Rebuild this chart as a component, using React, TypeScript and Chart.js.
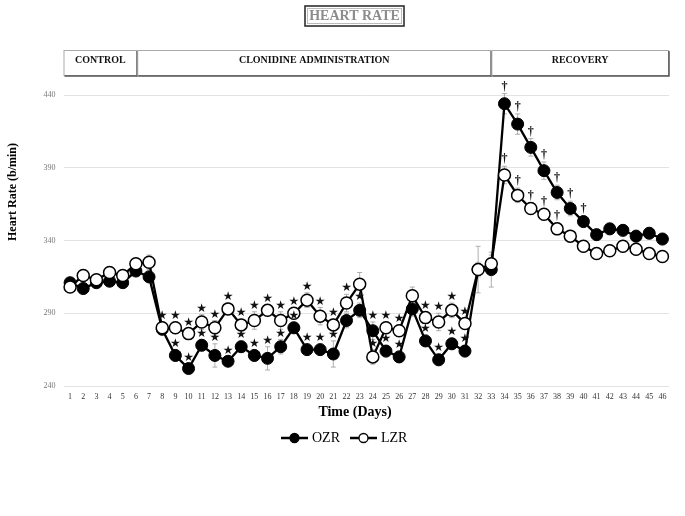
import { useEffect, useRef } from "react";
import { Chart, registerables } from "chart.js";

Chart.register(...registerables);

// Days of the study
const days = [
  "1", "2", "3", "4", "5", "6", "7", "8", "9", "10",
  "11", "12", "13", "14", "15", "16", "17", "18", "19", "20",
  "21", "22", "23", "24", "25", "26", "27", "28", "29", "30",
  "31", "32", "33", "34", "35", "36", "37", "38", "39", "40",
  "41", "42", "43", "44", "45", "46",
];

// Heart rate (b/min), mean and SEM
const ozr = [
  311, 307, 311, 312, 311, 319, 315, 279, 261, 252,
  268, 261, 257, 267, 261, 259, 267, 280, 265, 265,
  262, 285, 292, 278, 264, 260, 293, 271, 258, 269,
  264, 320, 320, 434, 420, 404, 388, 373, 362, 353,
  344, 348, 347, 343, 345, 341,
];
const ozrErr = [
  3, 4, 3, 3, 3, 3, 4, 4, 4, 3,
  4, 8, 3, 4, 4, 8, 5, 4, 4, 4,
  9, 5, 5, 6, 4, 4, 5, 4, 4, 4,
  4, 5, 12, 7, 7, 6, 6, 5, 5, 4,
  4, 4, 4, 4, 4, 4,
];
const lzr = [
  308, 316, 313, 318, 316, 324, 325, 280, 280, 276,
  284, 280, 293, 282, 285, 292, 285, 290, 299, 288,
  282, 297, 310, 260, 280, 278, 302, 287, 284, 292,
  283, 320, 324, 385, 371, 362, 358, 348, 343, 336,
  331, 333, 336, 334, 331, 329,
];
const lzrErr = [
  3, 4, 3, 4, 3, 3, 5, 4, 4, 3,
  5, 5, 4, 4, 6, 4, 6, 4, 5, 6,
  4, 6, 8, 5, 4, 4, 6, 4, 6, 5,
  4, 16, 6, 6, 5, 4, 4, 4, 4, 4,
  4, 4, 4, 4, 4, 4,
];

// significance marks
const ozrStarDays = [9, 10, 11, 12, 13, 14, 15, 16, 17, 18, 19, 20, 21, 23, 24, 25, 26, 28, 29, 30, 31];
const lzrStarDays = [8, 9, 10, 11, 12, 13, 14, 15, 16, 17, 18, 19, 20, 21, 22, 24, 25, 26, 28, 29, 30, 31];
const ozrDaggerDays = [34, 35, 36, 37, 38, 39, 40];
const lzrDaggerDays = [34, 35, 36, 37, 38];

const yTicks = [240, 290, 340, 390, 440];

// phases of the protocol, bounds given in days
const phases = ["CONTROL", "CLONIDINE ADMINISTRATION", "RECOVERY"];
const phaseBounds = [0.5, 6.1, 33, 46.5];

const SERIF = "'Liberation Serif', 'Times New Roman', serif";

const decorations = {
  id: "decorations",
  beforeDatasetsDraw(chart: any) {
    const { ctx } = chart;
    const y = chart.scales.y;
    const sets = [
      { vals: ozr, errs: ozrErr },
      { vals: lzr, errs: lzrErr },
    ];
    ctx.save();
    ctx.strokeStyle = "#9a9a9a";
    ctx.lineWidth = 0.8;
    sets.forEach((s, i) => {
      const meta = chart.getDatasetMeta(i);
      meta.data.forEach((pt: any, j: number) => {
        const top = y.getPixelForValue(s.vals[j] + s.errs[j]);
        const bot = y.getPixelForValue(s.vals[j] - s.errs[j]);
        ctx.beginPath();
        ctx.moveTo(pt.x, top);
        ctx.lineTo(pt.x, bot);
        ctx.moveTo(pt.x - 2.5, top);
        ctx.lineTo(pt.x + 2.5, top);
        ctx.moveTo(pt.x - 2.5, bot);
        ctx.lineTo(pt.x + 2.5, bot);
        ctx.stroke();
      });
    });
    ctx.restore();
  },
  afterDatasetsDraw(chart: any) {
    const { ctx } = chart;
    const x = chart.scales.x;
    const y = chart.scales.y;
    const mark = (list: number[], vals: number[], errs: number[], glyph: string, font: string, gap: number) => {
      ctx.font = font;
      list.forEach((d) => {
        const v = vals[d - 1];
        const px = x.getPixelForValue(d - 1);
        const py = Math.min(y.getPixelForValue(v) - gap - 4, y.getPixelForValue(v + errs[d - 1]) - gap);
        ctx.fillText(glyph, px, py);
      });
    };
    ctx.save();
    ctx.fillStyle = "#111";
    ctx.textAlign = "center";
    ctx.textBaseline = "middle";
    mark(ozrStarDays, ozr, ozrErr, "★", "12px 'DejaVu Sans'", 6);
    mark(lzrStarDays, lzr, lzrErr, "★", "12px 'DejaVu Sans'", 6);
    mark(ozrDaggerDays, ozr, ozrErr, "†", `bold 12px ${SERIF}`, 7);
    mark(lzrDaggerDays, lzr, lzrErr, "†", `bold 12px ${SERIF}`, 7);
    ctx.restore();
  },
  afterDraw(chart: any) {
    const { ctx } = chart;
    const x = chart.scales.x;
    ctx.save();

    // main title
    ctx.strokeStyle = "#222";
    ctx.lineWidth = 1.5;
    ctx.strokeRect(305, 6, 99, 20);
    ctx.strokeStyle = "#bbb";
    ctx.lineWidth = 1;
    ctx.strokeRect(307.5, 8.5, 94, 15);
    ctx.fillStyle = "#8c8c8c";
    ctx.font = `bold 14px ${SERIF}`;
    ctx.textAlign = "center";
    ctx.textBaseline = "middle";
    ctx.fillText("HEART RATE", 354.5, 16.5);

    // phase header boxes
    const top = 50;
    const h = 25;
    phases.forEach((label, i) => {
      const l = x.getPixelForValue(phaseBounds[i] - 1);
      const r = x.getPixelForValue(phaseBounds[i + 1] - 1);
      ctx.strokeStyle = "#aaa";
      ctx.lineWidth = 1;
      ctx.strokeRect(l + 0.5, top + 0.5, r - l - 1, h);
      ctx.strokeStyle = "#555";
      ctx.lineWidth = 1.5;
      ctx.beginPath();
      ctx.moveTo(l + 1, top + h + 1);
      ctx.lineTo(r, top + h + 1);
      ctx.lineTo(r, top + 1);
      ctx.stroke();
      ctx.fillStyle = "#111";
      ctx.font = `bold 10px ${SERIF}`;
      ctx.fillText(label, (l + r) / 2, top + 10.5);
    });

    // axis titles
    ctx.fillStyle = "#000";
    ctx.font = `bold 14px ${SERIF}`;
    ctx.fillText("Time (Days)", 355, 412);
    ctx.save();
    ctx.translate(13, 192);
    ctx.rotate(-Math.PI / 2);
    ctx.font = `bold 12px ${SERIF}`;
    ctx.fillText("Heart Rate (b/min)", 0, 0);
    ctx.restore();

    // legend
    const item = (x0: number, label: string, fill: string) => {
      const ly = 438;
      ctx.strokeStyle = "#000";
      ctx.lineWidth = 2.5;
      ctx.beginPath();
      ctx.moveTo(x0, ly);
      ctx.lineTo(x0 + 27, ly);
      ctx.stroke();
      ctx.beginPath();
      ctx.arc(x0 + 13.5, ly, 4.5, 0, Math.PI * 2);
      ctx.fillStyle = fill;
      ctx.fill();
      ctx.lineWidth = 1.3;
      ctx.stroke();
      ctx.fillStyle = "#000";
      ctx.font = `14px ${SERIF}`;
      ctx.textAlign = "left";
      ctx.fillText(label, x0 + 31, ly + 0.5);
    };
    item(281, "OZR", "#000");
    item(350, "LZR", "#fff");

    ctx.restore();
  },
};

export default function App() {
  const chartRef = useRef<HTMLCanvasElement>(null);
  const chartInstance = useRef<Chart | null>(null);

  useEffect(() => {
    document.body.style.margin = "0";
    if (!chartRef.current) return;
    if (chartInstance.current) chartInstance.current.destroy();

    const ctx = chartRef.current.getContext("2d");
    if (!ctx) return;

    chartInstance.current = new Chart(ctx, {
      type: "line",
      data: {
        labels: days,
        datasets: [
          {
            label: "OZR",
            data: ozr,
            borderColor: "#000",
            borderWidth: 2.3,
            pointRadius: 6,
            pointBackgroundColor: "#000",
            pointBorderColor: "#000",
            pointBorderWidth: 1,
            tension: 0,
            clip: false,
            order: 1,
          },
          {
            label: "LZR",
            data: lzr,
            borderColor: "#000",
            borderWidth: 2.3,
            pointRadius: 6,
            pointBackgroundColor: "#fff",
            pointBorderColor: "#000",
            pointBorderWidth: 1.5,
            tension: 0,
            clip: false,
            order: 0,
          },
        ],
      },
      options: {
        responsive: true,
        maintainAspectRatio: false,
        animation: false,
        events: [],
        layout: {
          padding: { top: 95, right: 16, bottom: 90, left: 0 },
        },
        scales: {
          x: {
            type: "category",
            offset: true,
            grid: { display: false, drawTicks: false },
            border: { display: false },
            ticks: {
              autoSkip: false,
              maxRotation: 0,
              padding: 6,
              color: "#333",
              font: { family: SERIF, size: 8 },
            },
            afterFit: (scale: any) => {
              scale.height = 40;
            },
          },
          y: {
            min: 240,
            max: 440,
            grid: { color: "#e2e2e2", drawTicks: false },
            border: { display: false },
            ticks: {
              padding: 8,
              color: "#777",
              font: { family: SERIF, size: 8 },
            },
            afterBuildTicks: (scale: any) => {
              scale.ticks = yTicks.map((v) => ({ value: v }));
            },
            afterFit: (scale: any) => {
              scale.width = 63.5;
            },
          },
        },
        plugins: {
          legend: { display: false },
          tooltip: { enabled: false },
        },
      },
      plugins: [decorations],
    });

    return () => {
      if (chartInstance.current) {
        chartInstance.current.destroy();
        chartInstance.current = null;
      }
    };
  }, []);

  return (
    <div style={{ width: 685, height: 516, position: "relative" }}>
      <canvas ref={chartRef} />
    </div>
  );
}
